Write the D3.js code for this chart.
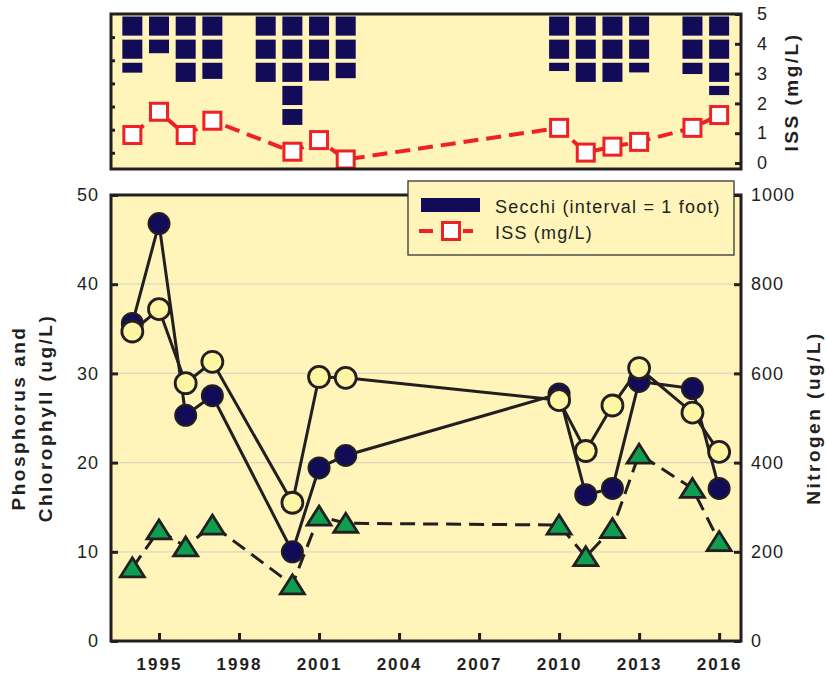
<!DOCTYPE html>
<html>
<head>
<meta charset="utf-8">
<script src="https://cdnjs.cloudflare.com/ajax/libs/d3/7.8.5/d3.min.js"></script>
<style>
  body { margin: 0; background: #fff; }
  svg text { font-family: "Liberation Sans", Arial, sans-serif; }
  .tick text { font-size: 18px; letter-spacing: 1px; fill: #231f20; }
  .xaxis .tick text { font-size: 17px; font-weight: bold; letter-spacing: 2px; }
  .title { font-size: 19px; font-weight: bold; letter-spacing: 2.5px; fill: #231f20; }
</style>
</head>
<body>
<svg width="826" height="673"></svg>
<script>
// sample years for the main panel + ISS
var years = [1994, 1995, 1996, 1997, 2000, 2001, 2002, 2010, 2011, 2012, 2013, 2015, 2016];
var phosphorus = [35.6, 46.8, 25.3, 27.5, 10.0, 19.4, 20.8, 27.7, 16.4, 17.1, 29.1, 28.3, 17.1];
var chlorophyll = [34.7, 37.2, 28.9, 31.3, 15.5, 29.6, 29.5, 27.0, 21.3, 26.4, 30.6, 25.6, 21.2];
var nitrogen = [164, 249, 211, 260, 126, 280, 264, 260, 189, 252, 419, 342, 223];
var iss = [0.94, 1.72, 0.94, 1.42, 0.38, 0.77, 0.12, 1.18, 0.35, 0.55, 0.71, 1.18, 1.61];

// secchi depth (feet) has an extra 1999 reading
var secchiYears = [1994, 1995, 1996, 1997, 1999, 2000, 2001, 2002, 2010, 2011, 2012, 2013, 2015, 2016];
var secchi = [2.6, 1.76, 3.0, 2.87, 3.0, 4.86, 2.95, 2.84, 2.53, 3.0, 3.0, 2.59, 2.66, 3.57];

var yearTicks = [1995, 1998, 2001, 2004, 2007, 2010, 2013, 2016];
var leftTicks = [0, 10, 20, 30, 40, 50];
var rightTicks = [0, 200, 400, 600, 800, 1000];
var issTicks = [0, 1, 2, 3, 4, 5];
var secchiTicks = [1, 2, 3, 4, 5, 6];

var ink = "#231f20", bg = "#fff5ba", navy = "#120c58", pale = "#fff6a3",
    green = "#0f9e4f", red = "#ee2226";

var svg = d3.select("svg");

var left = 111, right = 741;
var mainP = { top: 195, bottom: 641 };
var topP = { top: 14, bottom: 169 };

var x = d3.scaleLinear().domain([1993.2, 2016.82]).range([left, right]);
var yL = d3.scaleLinear().domain([0, 50]).range([mainP.bottom, mainP.top]);
var yR = d3.scaleLinear().domain([0, 1000]).range([mainP.bottom, mainP.top]);
var yIss = d3.scaleLinear().domain([-0.2, 5]).range([topP.bottom, topP.top]);
var ySec = d3.scaleLinear().domain([0, 6.7]).range([topP.top, topP.bottom]);

//backgrounds
[mainP, topP].forEach(function (p) {
  svg.append("rect").attr("x", left).attr("y", p.top)
    .attr("width", right - left).attr("height", p.bottom - p.top).attr("fill", bg);
});

//gridlines in main panel
svg.append("g").selectAll("line")
  .data([10, 20, 30, 40]).enter().append("line")
  .attr("x1", left).attr("x2", right)
  .attr("y1", function (d) { return yL(d) }).attr("y2", function (d) { return yL(d) })
  .attr("stroke", "#dcd8c0").attr("stroke-width", 1.3);

// ---------- top panel: secchi blocks, one per foot ----------
var blocks = [];
secchiYears.forEach(function (yr, i) {
  var v = secchi[i];
  for (var k = 0; k < v; k++) {
    blocks.push({ year: yr, y0: ySec(k) + 2.5, y1: ySec(Math.min(k + 1, v)) - 1.5 });
  }
});
svg.append("g").selectAll("rect")
  .data(blocks).enter().append("rect")
  .attr("x", function (d) { return x(d.year) - 10 })
  .attr("width", 20)
  .attr("y", function (d) { return d.y0 })
  .attr("height", function (d) { return Math.max(0, d.y1 - d.y0) })
  .attr("fill", navy);

// ISS dashed line + squares
var issPts = years.map(function (yr, i) { return [x(yr), yIss(iss[i])] });
svg.append("path")
  .attr("d", d3.line()(issPts))
  .attr("fill", "none").attr("stroke", red).attr("stroke-width", 4)
  .attr("stroke-dasharray", "15,8");
svg.append("g").selectAll("rect")
  .data(issPts).enter().append("rect")
  .attr("x", function (d) { return d[0] - 8.5 }).attr("y", function (d) { return d[1] - 8.5 })
  .attr("width", 17).attr("height", 17)
  .attr("fill", "#fff").attr("stroke", red).attr("stroke-width", 3);

// ---------- main panel ----------
var triPath = "M0,-10L12,9L-12,9Z";
var nPts = years.map(function (yr, i) { return [x(yr), yR(nitrogen[i])] });
var pPts = years.map(function (yr, i) { return [x(yr), yL(phosphorus[i])] });
var cPts = years.map(function (yr, i) { return [x(yr), yL(chlorophyll[i])] });

svg.append("path").attr("d", d3.line()(nPts))
  .attr("fill", "none").attr("stroke", ink).attr("stroke-width", 3)
  .attr("stroke-dasharray", "15,8");
svg.append("g").selectAll("path")
  .data(nPts).enter().append("path")
  .attr("d", triPath)
  .attr("transform", function (d) { return "translate(" + d[0] + "," + d[1] + ")" })
  .attr("fill", green).attr("stroke", ink).attr("stroke-width", 2.8);

svg.append("path").attr("d", d3.line()(pPts))
  .attr("fill", "none").attr("stroke", ink).attr("stroke-width", 3);
svg.append("path").attr("d", d3.line()(cPts))
  .attr("fill", "none").attr("stroke", ink).attr("stroke-width", 3);

svg.append("g").selectAll("circle")
  .data(pPts).enter().append("circle")
  .attr("cx", function (d) { return d[0] }).attr("cy", function (d) { return d[1] })
  .attr("r", 10.5).attr("fill", navy).attr("stroke", ink).attr("stroke-width", 2);
svg.append("g").selectAll("circle")
  .data(cPts).enter().append("circle")
  .attr("cx", function (d) { return d[0] }).attr("cy", function (d) { return d[1] })
  .attr("r", 10.5).attr("fill", pale).attr("stroke", ink).attr("stroke-width", 2.8);

// ---------- axes (ticks point inward) ----------
function styleAxis(g) {
  g.select(".domain").remove();
  g.selectAll(".tick line").attr("stroke", ink).attr("stroke-width", 3);
}

svg.append("g").attr("transform", "translate(" + left + ",0)")
  .call(d3.axisLeft(yL).tickValues(leftTicks).tickSize(-7).tickPadding(12))
  .call(styleAxis);
svg.append("g").attr("transform", "translate(" + right + ",0)")
  .call(d3.axisRight(yR).tickValues(rightTicks).tickFormat(d3.format("d")).tickSize(-7).tickPadding(10))
  .call(styleAxis);
svg.append("g").attr("class", "xaxis").attr("transform", "translate(0," + mainP.bottom + ")")
  .call(d3.axisBottom(x).tickValues(yearTicks).tickFormat(d3.format("d")).tickSize(-8).tickPadding(17))
  .call(styleAxis);

svg.append("g").attr("transform", "translate(" + right + ",0)")
  .call(d3.axisRight(yIss).tickValues(issTicks).tickFormat(d3.format("d")).tickSize(-6).tickPadding(16))
  .call(styleAxis);
svg.append("g").attr("transform", "translate(" + left + ",0)")
  .call(d3.axisLeft(ySec).tickValues(secchiTicks).tickSize(-4).tickFormat(""))
  .call(styleAxis);

//frames
[mainP, topP].forEach(function (p) {
  svg.append("rect").attr("x", left).attr("y", p.top)
    .attr("width", right - left).attr("height", p.bottom - p.top)
    .attr("fill", "none").attr("stroke", ink).attr("stroke-width", 3);
});

// ---------- legend ----------
var lg = svg.append("g");
lg.append("rect").attr("x", 408).attr("y", 181).attr("width", 326).attr("height", 74)
  .attr("fill", bg).attr("stroke", "#333").attr("stroke-width", 1.3);
lg.append("rect").attr("x", 421).attr("y", 198).attr("width", 59).attr("height", 14).attr("fill", navy);
lg.append("line").attr("x1", 419).attr("x2", 473).attr("y1", 231).attr("y2", 231)
  .attr("stroke", red).attr("stroke-width", 4).attr("stroke-dasharray", "14,8");
lg.append("rect").attr("x", 442.5).attr("y", 222.5).attr("width", 17).attr("height", 17)
  .attr("fill", "#fff").attr("stroke", red).attr("stroke-width", 3);
lg.append("text").attr("x", 495).attr("y", 212.5).text("Secchi (interval = 1 foot)")
  .attr("font-size", 18).attr("letter-spacing", 1.2).attr("fill", ink);
lg.append("text").attr("x", 495).attr("y", 239).text("ISS (mg/L)")
  .attr("font-size", 18).attr("letter-spacing", 1.2).attr("fill", ink);

// ---------- axis titles ----------
function vTitle(cx, cy, label) {
  svg.append("text").attr("class", "title")
    .attr("transform", "translate(" + cx + "," + cy + ") rotate(-90)")
    .attr("text-anchor", "middle")
    .text(label);
}
vTitle(25, 418, "Phosphorus and");
vTitle(52, 418, "Chlorophyll (ug/L)");
vTitle(820, 418, "Nitrogen (ug/L)");
vTitle(798, 92, "ISS (mg/L)");
</script>
</body>
</html>
